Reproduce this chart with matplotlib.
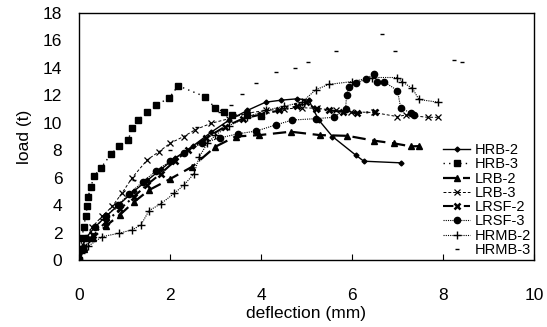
import matplotlib.pyplot as plt

plt.rcParams['font.family'] = ['Liberation Sans', 'DejaVu Sans']

# deflection (mm) / load (t) for each specimen
hrb2_x = [0, 0.05, 0.15, 0.35, 0.6, 0.9, 1.2, 1.5, 1.8, 2.1, 2.5, 2.9, 3.3, 3.7, 4.1, 4.45, 4.8, 5.05, 5.27, 5.57, 6.08, 6.26, 7.08]
hrb2_y = [0, 0.8, 1.6, 2.4, 3.2, 4.1, 5.0, 5.8, 6.6, 7.4, 8.3, 9.3, 10.2, 10.9, 11.5, 11.65, 11.75, 11.65, 10.2, 9.0, 7.65, 7.2, 7.08]

hrb3_x = [0, 0.03, 0.07, 0.1, 0.15, 0.18, 0.2, 0.26, 0.33, 0.48, 0.7, 0.88, 1.08, 1.17, 1.3, 1.5, 1.7, 1.98, 2.18, 2.77, 3.0, 3.19, 3.37, 3.7, 4.0]
hrb3_y = [0, 0.8, 1.6, 2.4, 3.2, 3.9, 4.6, 5.3, 6.1, 6.7, 7.7, 8.3, 8.75, 9.6, 10.2, 10.8, 11.3, 11.8, 12.7, 11.9, 11.05, 10.8, 10.55, 10.6, 10.5]

lrb2_x = [0, 0.1, 0.3, 0.6, 0.9, 1.2, 1.54, 2.0, 2.49, 3.0, 3.44, 3.96, 4.65, 5.3, 5.9, 6.48, 6.92, 7.3, 7.48]
lrb2_y = [0, 0.8, 1.6, 2.5, 3.3, 4.2, 5.1, 5.9, 6.8, 8.26, 9.0, 9.1, 9.35, 9.1, 9.05, 8.7, 8.5, 8.28, 8.3]

lrb3_x = [0, 0.1, 0.29, 0.51, 0.73, 0.95, 1.17, 1.5, 1.76, 2.0, 2.3, 2.56, 2.9, 3.3, 3.7, 4.1, 4.5, 4.9, 5.24, 5.64, 5.97, 6.48, 7.0, 7.18, 7.66, 7.88]
lrb3_y = [0, 1.0, 2.4, 3.2, 3.9, 4.9, 6.0, 7.3, 7.9, 8.5, 9.0, 9.5, 9.96, 10.3, 10.7, 10.9, 11.0, 11.1, 11.05, 10.9, 10.8, 10.75, 10.45, 10.57, 10.4, 10.4]

lrsf2_x = [0, 0.1, 0.3, 0.6, 0.9, 1.2, 1.5, 1.8, 2.1, 2.4, 2.8, 3.2, 3.6, 4.0, 4.4, 4.8, 5.0, 5.2, 5.5, 5.8, 6.1, 6.5]
lrsf2_y = [0, 0.9, 1.8, 2.8, 3.7, 4.6, 5.5, 6.3, 7.2, 8.0, 8.9, 9.7, 10.3, 10.6, 10.9, 11.2, 11.5, 11.0, 10.9, 10.8, 10.7, 10.8]

lrsf3_x = [0, 0.05, 0.15, 0.35, 0.6, 0.85, 1.1, 1.4, 1.7, 2.0, 2.3, 2.7, 3.1, 3.5, 3.9, 4.32, 4.69, 5.2, 5.6, 5.86, 5.88, 5.93, 6.08, 6.3, 6.48, 6.56, 6.7, 7.0, 7.07, 7.29, 7.36]
lrsf3_y = [0, 0.8, 1.6, 2.4, 3.2, 4.0, 4.8, 5.7, 6.5, 7.2, 7.8, 8.5, 8.9, 9.2, 9.4, 9.84, 10.2, 10.3, 10.4, 11.0, 12.0, 12.6, 12.87, 13.17, 13.56, 13.0, 13.0, 12.35, 11.1, 10.7, 10.57]

hrmb2_x = [0, 0.05, 0.2, 0.51, 0.88, 1.17, 1.36, 1.54, 1.8, 2.09, 2.31, 2.53, 2.64, 2.82, 3.0, 3.3, 3.7, 4.1, 4.5, 4.9, 5.2, 5.49, 6.0, 6.44, 7.0, 7.1, 7.33, 7.47, 7.89]
hrmb2_y = [0, 0.5, 1.0, 1.7, 1.95, 2.2, 2.55, 3.6, 4.1, 4.85, 5.47, 6.3, 7.5, 8.5, 9.1, 9.8, 10.4, 10.9, 11.2, 11.5, 12.4, 12.8, 13.0, 13.3, 13.3, 13.0, 12.5, 11.7, 11.5]

hrmb3_x = [0, 0.5, 1.2, 2.0, 2.6, 3.1, 3.33, 3.58, 3.9, 4.32, 4.75, 5.03, 5.64, 6.67, 6.94, 8.24, 8.42]
hrmb3_y = [0, 3.0, 5.8, 8.0, 9.7, 10.8, 11.3, 12.1, 12.9, 13.7, 14.0, 14.45, 15.25, 16.5, 15.25, 14.6, 14.45]

fig = plt.figure(figsize=(5.47, 3.27), dpi=100)
ax = fig.add_axes([0.1444, 0.2049, 0.8318, 0.7553])

ax.plot(hrb2_x, hrb2_y, color='k', lw=1.0, ls='-', marker='D', ms=2.5, label='HRB-2')
ax.plot(hrb3_x, hrb3_y, color='k', lw=1.0, ls=(0, (1, 3)), marker='s', ms=4, label='HRB-3')
ax.plot(lrb2_x, lrb2_y, color='k', lw=1.6, ls=(0, (6, 3)), marker='^', ms=5, label='LRB-2')
ax.plot(lrb3_x, lrb3_y, color='k', lw=0.7, ls=(0, (3, 2)), marker='x', ms=5, mew=0.9, label='LRB-3')
ax.plot(lrsf2_x, lrsf2_y, color='k', lw=1.5, ls=(0, (5, 2, 1, 2)), marker='x', ms=4, mew=1.8, label='LRSF-2')
ax.plot(lrsf3_x, lrsf3_y, color='k', lw=0.8, ls=(0, (1, 1)), marker='o', ms=4.5, label='LRSF-3')
ax.plot(hrmb2_x, hrmb2_y, color='k', lw=0.8, ls=(0, (1, 1)), marker='+', ms=6, mew=1.0, label='HRMB-2')
ax.plot(hrmb3_x, hrmb3_y, color='k', lw=0, ls='none', marker='_', ms=3, mew=1.0, label='HRMB-3')

ax.set_xlim(0, 10)
ax.set_ylim(0, 18)
ax.set_xticks([0, 2, 4, 6, 8, 10])
ax.set_yticks(range(0, 19, 2))
ax.tick_params(axis='x', direction='in', length=4, pad=20, labelsize=12.5)
ax.tick_params(axis='y', direction='in', length=0, pad=12, labelsize=12.5)
for s in ax.spines.values():
    s.set_linewidth(1.0)

ax.set_xlabel('deflection (mm)', fontsize=12.5, labelpad=2)
ax.set_ylabel('load (t)', fontsize=12.5, labelpad=8)

ax.legend(loc='lower right', frameon=False, fontsize=10.5, labelspacing=0.02,
          handlelength=1.9, handletextpad=0.3, numpoints=1,
          borderaxespad=0.1, borderpad=0.1)

fig.savefig('out.png', dpi=100)
